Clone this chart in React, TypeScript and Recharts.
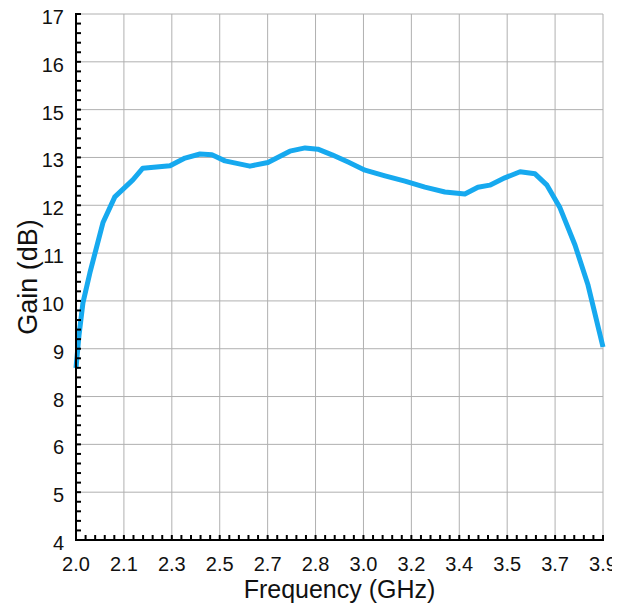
import { CartesianGrid, Label, Line, LineChart, XAxis, YAxis } from "recharts";

const FONT = '"Liberation Sans", Arial, sans-serif';
const LINE_COLOR = "#16a9ef";
const GRID_COLOR = "#b0b0b0";

// frequency (GHz) / gain (dB)
const FREQ = [
  2.0, 2.011, 2.025, 2.05, 2.097, 2.14, 2.205, 2.241, 2.339, 2.393, 2.447,
  2.49, 2.537, 2.627, 2.692, 2.771, 2.826, 2.872, 2.923, 2.981, 3.042, 3.114,
  3.186, 3.258, 3.33, 3.402, 3.449, 3.492, 3.546, 3.601, 3.655, 3.698, 3.745,
  3.799, 3.846, 3.9,
];
const GAIN = [
  8.25, 9.07, 9.86, 10.6, 11.84, 12.48, 12.9, 13.19, 13.25, 13.44, 13.54,
  13.52, 13.37, 13.24, 13.33, 13.61, 13.69, 13.66, 13.52, 13.34, 13.14, 13.0,
  12.87, 12.72, 12.6, 12.55, 12.72, 12.77, 12.95, 13.1, 13.05, 12.77, 12.21,
  11.29, 10.3, 8.77,
];

// the original plot labels its 11 even divisions with rounded values
const X_LABELS = ["2.0", "2.1", "2.3", "2.5", "2.7", "2.8", "3.0", "3.2", "3.4", "3.5", "3.7", "3.9"];
const Y_LABELS = ["4", "5", "6", "8", "9", "10", "11", "12", "13", "15", "16", "17"];

const X_MIN = 2.0;
const X_MAX = 3.9;
const Y_MIN = 4;
const Y_MAX = 17;
const DIVS = 11;
const MINOR = 5;

function evenTicks(min: number, max: number, n: number): number[] {
  const out: number[] = [];
  for (let i = 0; i <= n; i++) out.push(min + ((max - min) * i) / n);
  return out;
}

const xMajor = evenTicks(X_MIN, X_MAX, DIVS);
const yMajor = evenTicks(Y_MIN, Y_MAX, DIVS);
const xAll = evenTicks(X_MIN, X_MAX, DIVS * MINOR);
const yAll = evenTicks(Y_MIN, Y_MAX, DIVS * MINOR);

const data = FREQ.map((f, i) => ({ f, g: GAIN[i] }));

interface TickProps {
  x?: number;
  y?: number;
  index?: number;
}

function XTick({ x = 0, y = 0, index = 0 }: TickProps) {
  const major = index % MINOR === 0;
  return (
    <g>
      <line x1={x} x2={x} y1={y + 1} y2={y - 5} stroke="#000" strokeWidth={2} />
      {major && (
        <text x={x} y={y + 31} textAnchor="middle" fontSize={20} fontFamily={FONT} fill="#111">
          {X_LABELS[index / MINOR]}
        </text>
      )}
    </g>
  );
}

function YTick({ x = 0, y = 0, index = 0 }: TickProps) {
  const major = index % MINOR === 0;
  return (
    <g>
      <line x1={x - 1} x2={x + 5} y1={y} y2={y} stroke="#000" strokeWidth={2} />
      {major && (
        <text x={x - 12} y={y + 10} textAnchor="end" fontSize={20} fontFamily={FONT} fill="#111">
          {Y_LABELS[index / MINOR]}
        </text>
      )}
    </g>
  );
}

export default function App() {
  // negative top margin cancels the body margin so the svg can use the full height
  return (
    <div style={{ width: 612, height: 604, marginTop: -8 }}>
      <LineChart
        width={612}
        height={604}
        data={data}
        margin={{ top: 14, right: 17, bottom: 0, left: 8 }}
      >
        <CartesianGrid
          stroke={GRID_COLOR}
          strokeWidth={1}
          verticalValues={xMajor}
          horizontalValues={yMajor}
        />
        <XAxis
          dataKey="f"
          type="number"
          domain={[X_MIN, X_MAX]}
          ticks={xAll}
          interval={0}
          height={64}
          tickSize={0}
          tickMargin={0}
          tickLine={false}
          axisLine={{ stroke: "#000", strokeWidth: 2 }}
          tick={<XTick />}
        >
          <Label
            value="Frequency (GHz)"
            position="insideBottom"
            offset={6}
            style={{ fontSize: 25, fontFamily: FONT, fill: "#111" }}
          />
        </XAxis>
        <YAxis
          type="number"
          domain={[Y_MIN, Y_MAX]}
          ticks={yAll}
          interval={0}
          width={60}
          tickSize={0}
          tickMargin={0}
          tickLine={false}
          axisLine={{ stroke: "#000", strokeWidth: 2 }}
          tick={<YTick />}
        >
          <Label
            value="Gain (dB)"
            angle={-90}
            position="insideLeft"
            offset={11}
            style={{ fontSize: 27, fontFamily: FONT, fill: "#111", textAnchor: "middle" }}
          />
        </YAxis>
        <Line
          type="linear"
          dataKey="g"
          stroke={LINE_COLOR}
          strokeWidth={5}
          strokeLinejoin="round"
          dot={false}
          activeDot={false}
          isAnimationActive={false}
        />
      </LineChart>
    </div>
  );
}
